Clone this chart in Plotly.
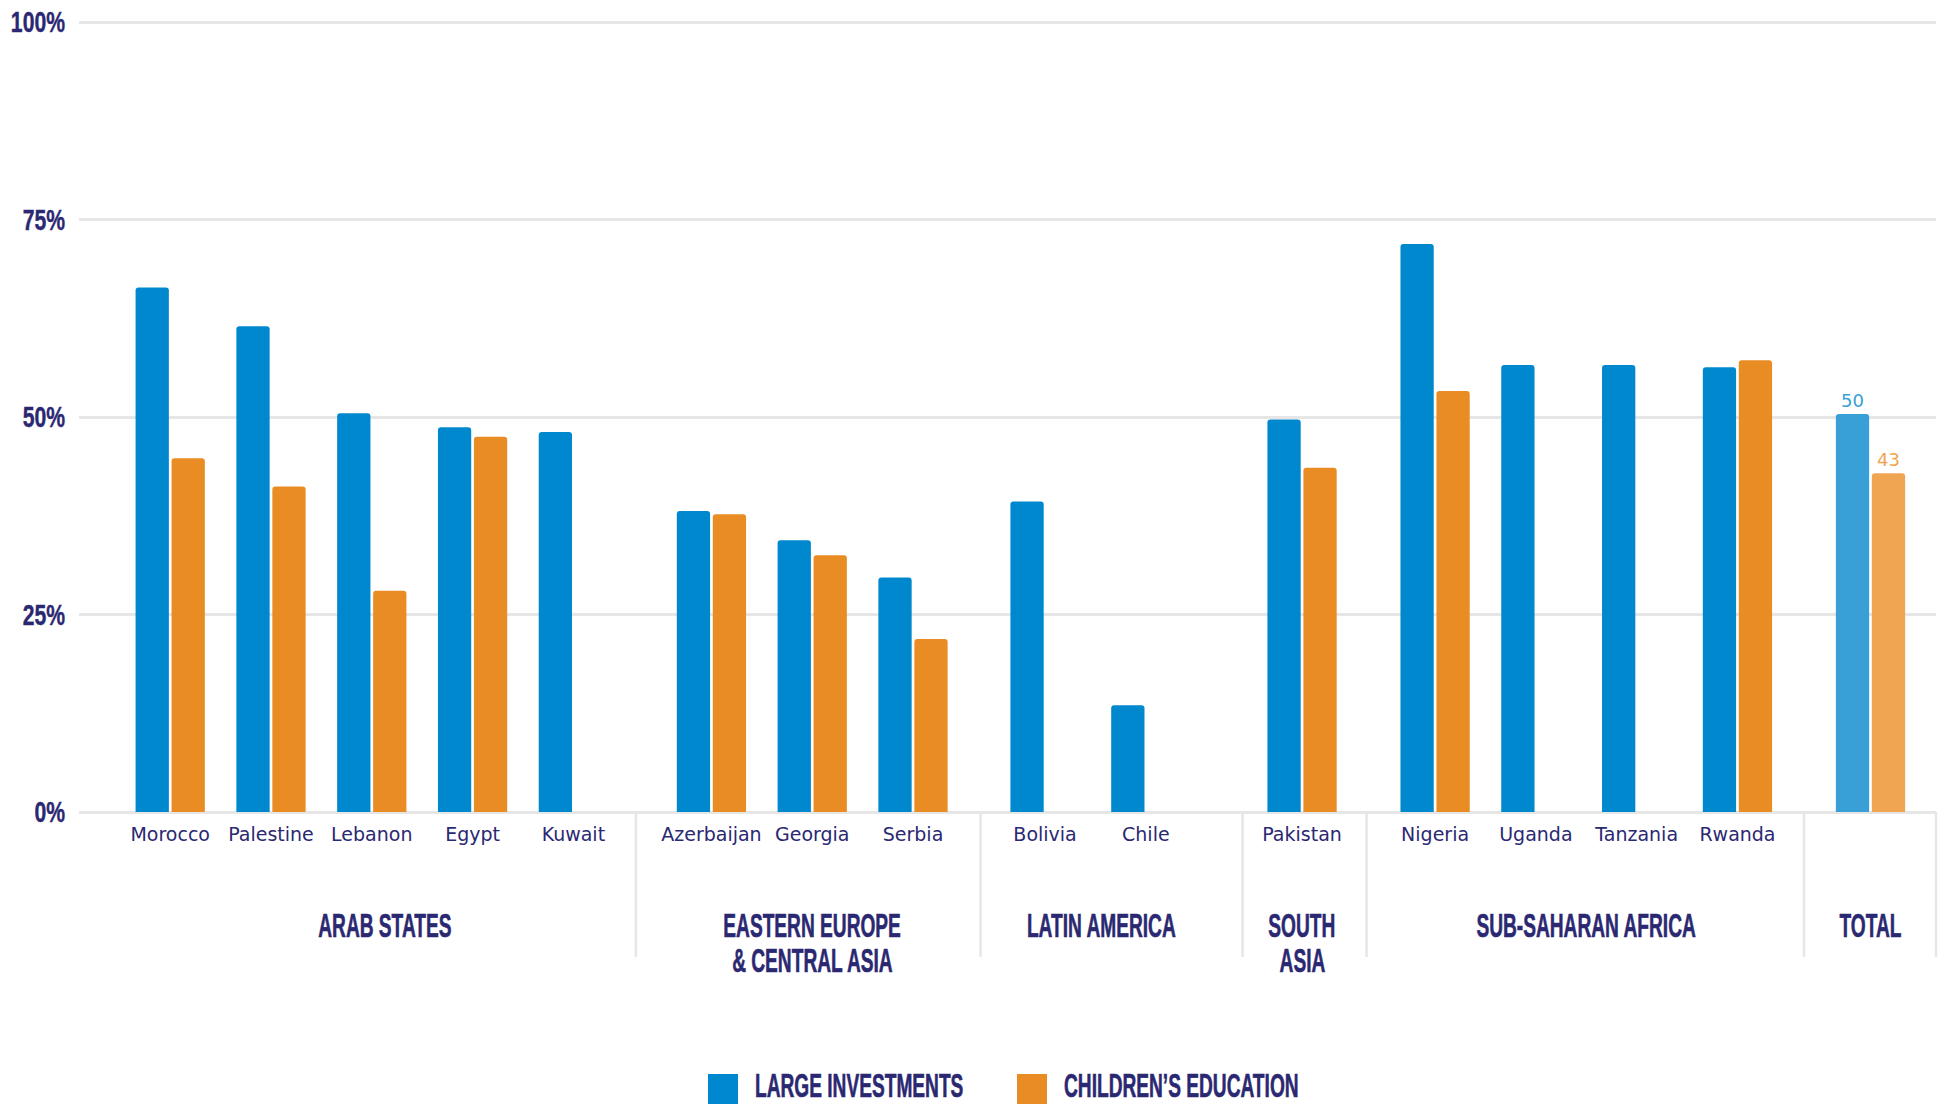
import plotly.graph_objects as go

# ---------------- data ----------------
countries = ["Morocco", "Palestine", "Lebanon", "Egypt", "Kuwait",
             "Azerbaijan", "Georgia", "Serbia",
             "Bolivia", "Chile",
             "Pakistan",
             "Nigeria", "Uganda", "Tanzania", "Rwanda",
             ""]
country_region = [0, 0, 0, 0, 0,
                  1, 1, 1,
                  2, 2,
                  3,
                  4, 4, 4, 4,
                  5]
regions = ["ARAB STATES", "EASTERN EUROPE<br>& CENTRAL ASIA", "LATIN AMERICA",
           "SOUTH<br>ASIA", "SUB-SAHARAN AFRICA", "TOTAL"]
large_investments = [66.4, 61.5, 50.5, 48.7, 48.1,
                     38.1, 34.4, 29.7,
                     39.3, 13.5,
                     49.7,
                     71.9, 56.6, 56.6, 56.3,
                     50.4]
childrens_education = [44.8, 41.2, 28.0, 47.5, None,
                       37.7, 32.5, 21.9,
                       None, None,
                       43.6,
                       53.3, None, None, 57.2,
                       42.9]
series_names = ["LARGE INVESTMENTS", "CHILDREN\u2019S EDUCATION"]
y_tickvals = [0, 25, 50, 75, 100]
y_ticktext = ["0%", "25%", "50%", "75%", "100%"]

# ---------------- styles / layout constants ----------------
W, H = 1946, 1104
M_L, M_R, M_T, M_B = 79, 10, 19, 292
Y_MAX = 100.4
NAVY = "#2B2872"
BLUE, ORANGE = "#0088CE", "#EA8C24"
BLUE_TOTAL, ORANGE_TOTAL = "#389FD7", "#EFA552"
GRID = "#E6E6E6"
GROUP_GAPS = [0.37, 0.31, 0.55, 0.32, 0.32]      # extra spacing between region blocks
SEP_BEFORE = [0.75, 0.64, 0.59, 0.68, 0.66]      # separator distance before next block
SEP_AFTER_LAST = 0.65
LABEL_SHIFT = [0.13, 0.0, 0.06, 0.0, 0.0, 0.0]
X_MIN, X_MAX = -0.905, 17.52
HEAD = "Liberation Sans, Arial, sans-serif"
BODY = "DejaVu Sans, sans-serif"
SQUEEZE = 0.58        # horizontal squeeze of headline-style text (condensed look)
SQUEEZE_TICKS = 0.73  # horizontal squeeze of y tick labels

# slot positions along the x axis (layout spacing, not data)
pos = []
cur = 0.0
for i, r in enumerate(country_region):
    if i > 0:
        cur += 1.0
        if r != country_region[i - 1]:
            cur += GROUP_GAPS[r - 1]
    pos.append(cur)

plot_w = W - M_L - M_R
plot_h = H - M_T - M_B


def px(X):
    return (X - M_L) / plot_w


def py(Y):
    return (H - M_B - Y) / plot_h


def xpaper(x):
    return (x - X_MIN) / (X_MAX - X_MIN)


is_total = [r == len(regions) - 1 for r in country_region]

fig = go.Figure()
fig.add_trace(go.Bar(
    x=pos, y=large_investments, name=series_names[0],
    marker=dict(color=[BLUE_TOTAL if t else BLUE for t in is_total], line=dict(width=0)),
    text=[f"{v:.0f}" if t else "" for v, t in zip(large_investments, is_total)],
    textposition="outside", cliponaxis=False,
    textfont=dict(family=BODY, size=18, color=BLUE_TOTAL),
    showlegend=False, hoverinfo="x+y",
))
fig.add_trace(go.Bar(
    x=pos, y=childrens_education, name=series_names[1],
    marker=dict(color=[ORANGE_TOTAL if t else ORANGE for t in is_total], line=dict(width=0)),
    text=[f"{v:.0f}" if (t and v is not None) else "" for v, t in zip(childrens_education, is_total)],
    textposition="outside", cliponaxis=False,
    textfont=dict(family=BODY, size=18, color=ORANGE_TOTAL),
    showlegend=False, hoverinfo="x+y",
))

shapes = []
annotations = []

# region separators
first_of_region = {}
last_of_region = {}
for p, r in zip(pos, country_region):
    first_of_region.setdefault(r, p)
    last_of_region[r] = p
sep_x = [first_of_region[r] - SEP_BEFORE[r - 1] for r in range(1, len(regions))]
sep_x.append(last_of_region[len(regions) - 1] + SEP_AFTER_LAST)
for sx in sep_x:
    xp = xpaper(sx)
    shapes.append(dict(type="line", xref="paper", yref="paper",
                       x0=xp, x1=xp, y0=py(812), y1=py(957),
                       line=dict(color=GRID, width=2.5), layer="below"))

# region labels (one annotation per line, 35 px line pitch)
for r, name in enumerate(regions):
    ps = [p for p, rr in zip(pos, country_region) if rr == r]
    for k, line in enumerate(name.split("<br>")):
        annotations.append(dict(
            x=sum(ps) / len(ps) + LABEL_SHIFT[r], xref="x",
            y=py(925.5 + 35 * k), yref="paper",
            text=line, showarrow=False, xanchor="center", yanchor="middle",
            font=dict(family=HEAD, size=33, color=NAVY, weight="bold"), align="center",
        ))

# custom legend
legend_items = [(series_names[0], BLUE, 708, 753), (series_names[1], ORANGE, 1017, 1062)]
for name, col, sq_x, tx_x in legend_items:
    shapes.append(dict(type="rect", xref="paper", yref="paper",
                       x0=px(sq_x), x1=px(sq_x + 30), y0=py(1110), y1=py(1074),
                       fillcolor=col, line=dict(width=0)))
    annotations.append(dict(
        x=px(tx_x), xref="paper", y=py(1085), yref="paper",
        text=name, showarrow=False, xanchor="left", yanchor="middle", align="left",
        font=dict(family=HEAD, size=33, color=NAVY, weight="bold"),
    ))

fig.update_layout(
    width=W, height=H,
    margin=dict(l=M_L, r=M_R, t=M_T, b=M_B, autoexpand=False),
    paper_bgcolor="white", plot_bgcolor="white",
    barmode="group", bargap=0.286, bargroupgap=0.075, barcornerradius=3,
    shapes=shapes, annotations=annotations,
    xaxis=dict(
        range=[X_MIN, X_MAX], tickvals=pos, ticktext=countries,
        showgrid=False, zeroline=False, showline=False, ticks="",
        tickfont=dict(family=BODY, size=19, color=NAVY),
        ticklabelstandoff=9,
    ),
    yaxis=dict(
        range=[0, Y_MAX], tickvals=y_tickvals, ticktext=y_ticktext,
        showgrid=True, gridcolor=GRID, gridwidth=2.5,
        zeroline=True, zerolinecolor=GRID, zerolinewidth=2.5,
        showline=False, ticks="",
        tickfont=dict(family=HEAD, size=29, color=NAVY, weight="bold"),
        ticklabelstandoff=13,
    ),
    font=dict(family=BODY, color=NAVY),
)

post = """
document.body.style.margin = '0';
var gd = document.getElementById('{plot_id}');
gd.querySelectorAll('text.annotation-text').forEach(function (t) {
  t.style.transformBox = 'fill-box';
  t.style.transformOrigin = (t.getAttribute('text-anchor') === 'start') ? 'left center' : 'center center';
  t.style.transform = 'scaleX(%s)';
  t.style.stroke = '%s';
  t.style.strokeWidth = '0.6px';
});
gd.querySelectorAll('g.ytick text').forEach(function (t) {
  var tr = t.getAttribute('transform') || '';
  var x0 = parseFloat(t.getAttribute('x')) || 0;
  t.setAttribute('transform', tr + ' translate(' + x0 + ',0) scale(%s,1) translate(' + (-x0) + ',0)');
  t.style.stroke = '%s';
  t.style.strokeWidth = '0.4px';
});
""" % (SQUEEZE, NAVY, SQUEEZE_TICKS, NAVY)

fig.write_html("out.html", config={"displayModeBar": False}, post_script=post)
